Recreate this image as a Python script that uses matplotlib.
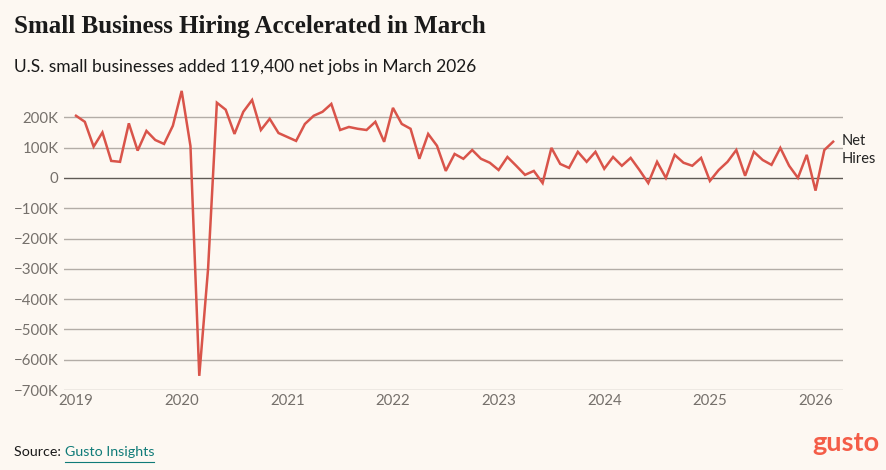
import numpy as np
import matplotlib.pyplot as plt
from matplotlib.ticker import FuncFormatter

# monthly net hires, Jan 2019 - Mar 2026 (thousands)
net_2019 = [205, 185, 103, 150, 56, 53, 180, 90, 155, 125, 112, 172]
net_2020 = [287, 105, -653, -300, 248, 225, 145, 218, 257, 158, 195, 148]
net_2021 = [135, 122, 178, 205, 218, 244, 158, 168, 162, 158, 185, 119]
net_2022 = [231, 178, 162, 63, 145, 106, 23, 79, 63, 92, 63, 50]
net_2023 = [26, 69, 40, 10, 23, -17, 99, 46, 33, 86, 53, 86]
net_2024 = [30, 69, 40, 66, 26, -17, 53, 0, 76, 50, 40, 66]
net_2025 = [-10, 26, 53, 92, 7, 86, 59, 43, 99, 40, 0, 76]
net_2026 = [-42, 92, 119.4]

net_hires = np.array(net_2019 + net_2020 + net_2021 + net_2022 + net_2023
                     + net_2024 + net_2025 + net_2026) * 1000
months = np.arange(len(net_hires))

year_labels = ["2019", "2020", "2021", "2022", "2023", "2024", "2025", "2026"]
y_ticks = [200000, 100000, 0, -100000, -200000, -300000, -400000,
           -500000, -600000, -700000]

bg = "#fdf8f2"
red = "#d9544a"
grey_txt = "#75706b"

fig = plt.figure(figsize=(8.87, 4.70), dpi=100, facecolor=bg)
ax = fig.add_axes([0.0722, 0.170, 0.878, 0.645], facecolor=bg)

for v in y_ticks:
    if v == 0:
        ax.axhline(v, color="#5f5a55", lw=1.0, zorder=1)
    else:
        ax.axhline(v, color="#b3ada7", lw=1.0, zorder=1)

ax.plot(months, net_hires, color=red, lw=1.8, zorder=3, solid_joinstyle="miter")

ax.set_xlim(-1.36, 87.1)
ax.set_ylim(-700000, 300000)
ax.set_xticks(np.arange(0, 85, 12))
ax.set_xticklabels(year_labels)
ax.set_yticks(y_ticks)


def fmt_k(v, pos):
    k = int(round(v / 1000))
    if k == 0:
        return "0"
    if k < 0:
        return "\u2212" + str(-k) + "K"
    return str(k) + "K"


ax.yaxis.set_major_formatter(FuncFormatter(fmt_k))
ax.tick_params(axis="both", length=0, labelsize=10.8, labelcolor=grey_txt,
               labelfontfamily="Lato")
ax.tick_params(axis="y", pad=4)
ax.tick_params(axis="x", pad=3)
for s in ax.spines.values():
    s.set_visible(False)

ax.text(months[-1] + 1.0, net_hires[-1] + 25000, "Net\nHires", fontsize=10.5,
        family="Lato", color="#222222", va="top", ha="left",
        linespacing=1.35)

fig.text(0.016, 0.943, "Small Business Hiring Accelerated in March",
         fontsize=18, family="Liberation Serif", weight="bold",
         color="#1a1a1a", va="center", ha="left")
fig.text(0.016, 0.857, "U.S. small businesses added 119,400 net jobs in March 2026",
         fontsize=12.55, family="Lato", color="#1a1a1a", va="center", ha="left")

src = fig.text(0.016, 0.038, "Source: ", fontsize=10.3, family="Lato",
               color="#1a1a1a", va="center", ha="left")
fig.canvas.draw()
bb = src.get_window_extent()
x_link = bb.x1 / fig.bbox.width
fig.text(x_link, 0.038, "Gusto Insights", fontsize=10.3, family="Lato",
         color="#0f7b78", va="center", ha="left")
fig.canvas.draw()
link = fig.texts[-1].get_window_extent()
fig.lines.append(plt.Line2D([link.x0 / fig.bbox.width, link.x1 / fig.bbox.width],
                            [0.018, 0.018], transform=fig.transFigure,
                            color="#0f7b78", lw=0.8))

fig.text(0.991, 0.058, "gusto", fontsize=19.5, family="Lato", weight="bold",
         color="#f45d48", va="center", ha="right")

fig.savefig("out.png", dpi=100, facecolor=bg)
